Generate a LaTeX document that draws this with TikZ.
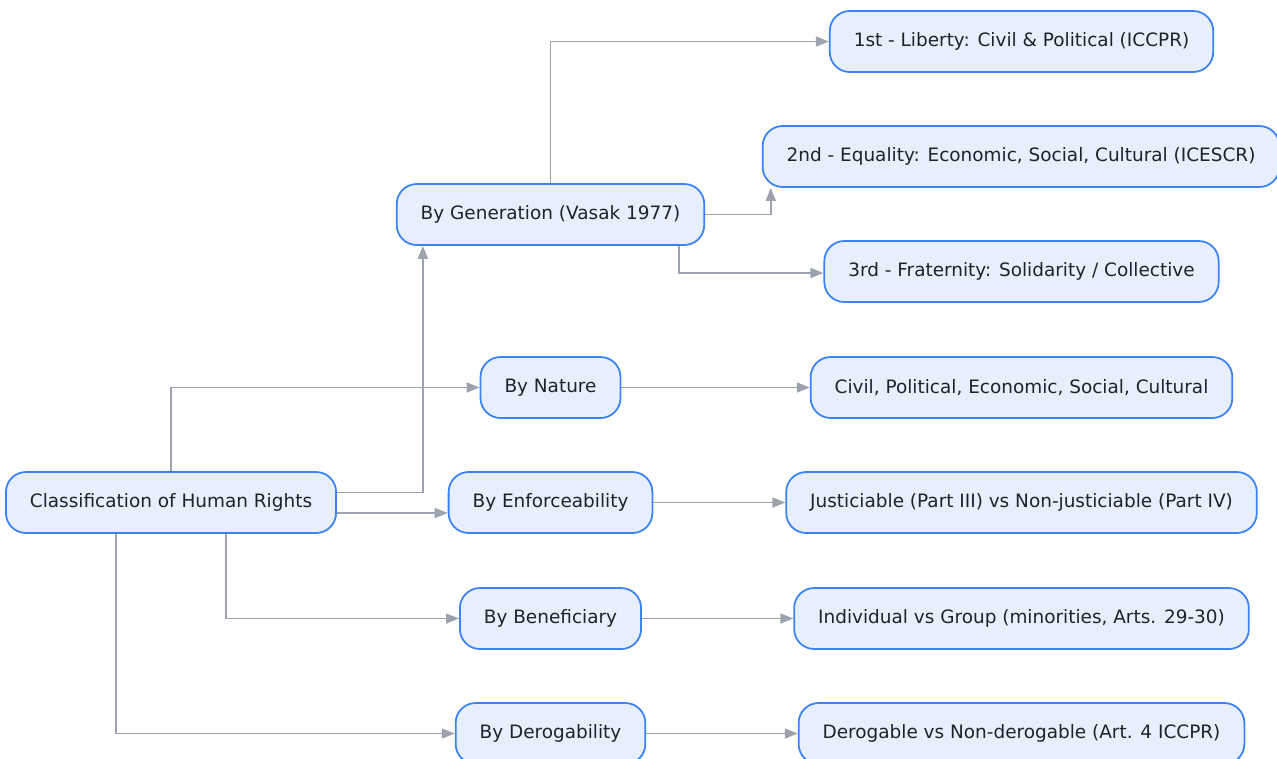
\documentclass[tikz,border=0pt]{standalone}
\usepackage{fontspec}
\setmainfont{DejaVu Sans}
\usetikzlibrary{arrows.meta}
\begin{document}
\begin{tikzpicture}[x=0.02cm,y=-0.02cm,
  box/.style={draw=boxline, fill=boxfill, line width=1pt, rounded corners=0.4cm,
    minimum height=1.22cm, inner xsep=0.48cm, text=boxtext,
    font=\fontsize{10.5}{12.6}\selectfont},
  link/.style={draw=linkgray, line width=1pt, -{Triangle[length=0.26cm,width=0.2cm]}}]
\definecolor{boxfill}{HTML}{E8EFFC}
\definecolor{boxline}{HTML}{3B82F6}
\definecolor{boxtext}{HTML}{1F2328}
\definecolor{linkgray}{HTML}{9CA3AF}
\useasboundingbox (0,0) rectangle (1277,758);
\node[box] (root) at (171,502.5) {Classification of Human Rights};
\node[box] (gen) at (550.5,214.5) {By Generation (Vasak 1977)};
\node[box] (nature) at (550.5,387.5) {By Nature};
\node[box] (enforce) at (550.5,502.5) {By Enforceability};
\node[box] (benef) at (550.5,618.5) {By Beneficiary};
\node[box] (derog) at (550.5,733.5) {By Derogability};
\node[box] (first) at (1021.5,41.5) {1st - Liberty: Civil \& Political (ICCPR)};
\node[box] (second) at (1021,156.5) {2nd - Equality: Economic, Social, Cultural (ICESCR)};
\node[box] (third) at (1021.5,271.5) {3rd - Fraternity: Solidarity / Collective};
\node[box] (civil) at (1021.5,387.5) {Civil, Political, Economic, Social, Cultural};
\node[box] (justic) at (1021.5,502.5) {Justiciable (Part III) vs Non-justiciable (Part IV)};
\node[box] (group) at (1021.5,618.5) {Individual vs Group (minorities, Arts. 29-30)};
\node[box] (nonderog) at (1021.5,733.5) {Derogable vs Non-derogable (Art. 4 ICCPR)};
% from the root
\draw[link] (root.north) |- (nature.west);
\draw[link] ([yshift=0.2cm]root.east) -| ([xshift=0.54cm]gen.south west);
\draw[link] ([yshift=-0.21cm]root.east) -- ([yshift=-0.21cm]enforce.west);
\draw[link] ([xshift=1.1cm]root.south) |- (benef.west);
\draw[link] ([xshift=-1.1cm]root.south) |- (derog.west);
% generations
\draw[link] (gen.north) |- (first.west);
\draw[link] (gen.east) -| ([xshift=0.18cm]second.south west);
\draw[link] ([xshift=2.57cm]gen.south) |- ([yshift=-0.03cm]third.west);
% details
\draw[link] (nature) -- (civil);
\draw[link] (enforce) -- (justic);
\draw[link] (benef) -- (group);
\draw[link] (derog) -- (nonderog);
\end{tikzpicture}
\end{document}
